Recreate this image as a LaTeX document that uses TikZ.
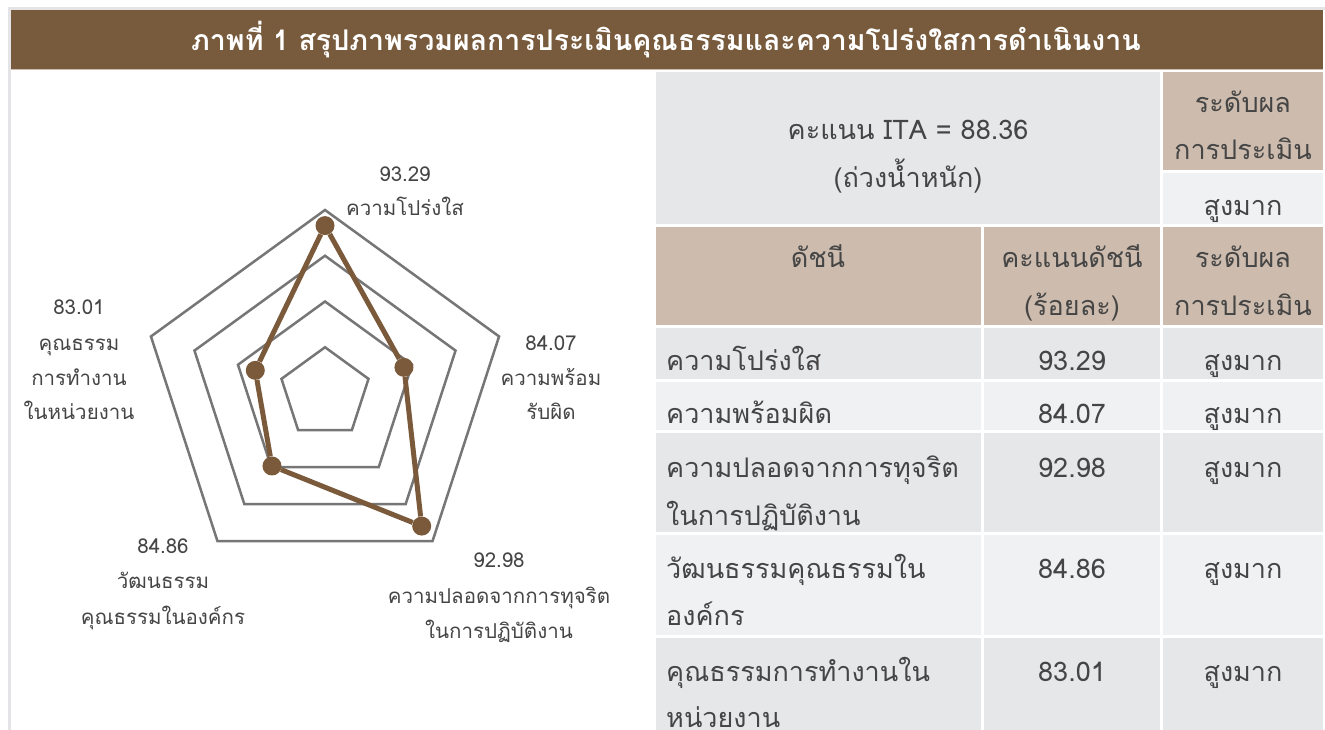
\documentclass[tikz,border=0pt]{standalone}
\usepackage{fontspec}
\newfontfamily\thai[Script=Thai]{Loma}
\definecolor{hdrbrown}{HTML}{785A3C}
\definecolor{tan}{HTML}{CDBCAE}
\definecolor{cgray}{HTML}{E6E7E9}
\definecolor{clight}{HTML}{F0F1F3}
\definecolor{ringgray}{HTML}{767676}
\definecolor{databrown}{HTML}{7A5A3B}
\definecolor{txtgray}{HTML}{454545}
\definecolor{bordergray}{HTML}{E4E4E6}
\tikzset{
  cell/.style={inner sep=0pt, outer sep=0pt, anchor=north west, draw=none},
  ttxt/.style={inner sep=0pt, anchor=base, text=txtgray, font=\thai\fontsize{27}{48}\selectfont},
  ttxtl/.style={ttxt, anchor=base west},
  ctxt/.style={inner sep=0pt, anchor=base, text=txtgray, font=\thai\fontsize{20.5}{35}\selectfont},
  ring/.style={draw=ringgray, line width=2.5pt, line join=miter},
  dot/.style={circle, fill=databrown, inner sep=0pt, minimum size=19pt},
  dataline/.style={draw=databrown, line width=5pt},
}
\begin{document}
\begin{tikzpicture}[x=1pt, y=-1pt]
\useasboundingbox (0,0) rectangle (1325,730);
\fill[white] (0,0) rectangle (1325,730);
% outer frame lines
\fill[bordergray] (8,7) rectangle (1325,10);
\fill[bordergray] (8,10) rectangle (11,730);
% header bar
\node[cell, fill=hdrbrown, minimum width=1312pt, minimum height=59pt] (hdr) at (11,10) {};
\node[inner sep=0pt, anchor=base, text=white, font=\thai\bfseries\fontsize{28.5}{32}\selectfont] (title) at (666,51) {ภาพที่ 1 สรุปภาพรวมผลการประเมินคุณธรรมและความโปร่งใสการดำเนินงาน};
\fill[tan] (11,69) rectangle (1323,70.5);

% ---------- table cells ----------
\node[cell, fill=cgray, minimum width=504pt, minimum height=152pt] (ita) at (656,72) {};
\node[cell, fill=tan, minimum width=160pt, minimum height=98pt] (lvlhA) at (1163,72) {};
\node[cell, fill=clight, minimum width=160pt, minimum height=51pt] (lvlA) at (1163,173) {};

\node[cell, fill=tan, minimum width=325pt, minimum height=98pt] (h1) at (656,227) {};
\node[cell, fill=tan, minimum width=176pt, minimum height=98pt] (h2) at (984,227) {};
\node[cell, fill=tan, minimum width=160pt, minimum height=98pt] (h3) at (1163,227) {};

\foreach \r/\top/\ht/\col in {1/328/51/cgray, 2/382/48/clight, 3/433/99/cgray, 4/535/100/clight, 5/638/95/cgray}{
  \node[cell, fill=\col, minimum width=325pt, minimum height=\ht pt] (r\r c1) at (656,\top) {};
  \node[cell, fill=\col, minimum width=176pt, minimum height=\ht pt] (r\r c2) at (984,\top) {};
  \node[cell, fill=\col, minimum width=160pt, minimum height=\ht pt] (r\r c3) at (1163,\top) {};
}

% ---------- table texts ----------
\node[ttxt] (itaT1) at (908,140) {คะแนน ITA = 88.36};
\node[ttxt] (itaT2) at (908,188) {(ถ่วงน้ำหนัก)};
\node[ttxt] (lvlhA1) at (1243,113) {ระดับผล};
\node[ttxt] (lvlhA2) at (1243,160) {การประเมิน};
\node[ttxt] (lvlAT) at (1243,215) {สูงมาก};

\node[ttxt] (h1T) at (818,267) {ดัชนี};
\node[ttxt] (h2T1) at (1072,267) {คะแนนดัชนี};
\node[ttxt] (h2T2) at (1072,315) {(ร้อยละ)};
\node[ttxt] (h3T1) at (1243,267) {ระดับผล};
\node[ttxt] (h3T2) at (1243,315) {การประเมิน};

\node[ttxtl] (n1) at (666,370) {ความโปร่งใส};
\node[ttxt] (s1) at (1072,370) {93.29};
\node[ttxt] (l1) at (1243,370) {สูงมาก};

\node[ttxtl] (n2) at (666,423) {ความพร้อมผิด};
\node[ttxt] (s2) at (1072,423) {84.07};
\node[ttxt] (l2) at (1243,423) {สูงมาก};

\node[ttxtl] (n3a) at (666,477) {ความปลอดจากการทุจริต};
\node[ttxtl] (n3b) at (666,525) {ในการปฏิบัติงาน};
\node[ttxt] (s3) at (1072,477) {92.98};
\node[ttxt] (l3) at (1243,477) {สูงมาก};

\node[ttxtl] (n4a) at (666,578) {วัฒนธรรมคุณธรรมใน};
\node[ttxtl] (n4b) at (666,625) {องค์กร};
\node[ttxt] (s4) at (1072,578) {84.86};
\node[ttxt] (l4) at (1243,578) {สูงมาก};

\node[ttxtl] (n5a) at (666,681) {คุณธรรมการทำงานใน};
\node[ttxtl] (n5b) at (666,727) {หน่วยงาน};
\node[ttxt] (s5) at (1072,681) {83.01};
\node[ttxt] (l5) at (1243,681) {สูงมาก};

% ---------- radar chart ----------
\begin{scope}[shift={(325,393)}, x=1pt, y=1pt]
  \foreach \rr in {183,137.25,91.5,45.75}{
    \draw[ring] (90:\rr) -- (18:\rr) -- (-54:\rr) -- (-126:\rr) -- (162:\rr) -- cycle;
  }
  \node[dot] (p1) at (90:167.4) {};
  \node[dot] (p2) at (18:83.0) {};
  \node[dot] (p3) at (-54:164.5) {};
  \node[dot] (p4) at (-126:90.2) {};
  \node[dot] (p5) at (162:73.3) {};
  \draw[dataline] (p1) -- (p2) -- (p3) -- (p4) -- (p5) -- (p1);
\end{scope}

% chart labels
\node[ctxt] (v1) at (405,182) {93.29};
\node[ctxt] (a1) at (405,216) {ความโปร่งใส};
\node[ctxt] (v5) at (79,314) {83.01};
\node[ctxt] (a5a) at (79,350) {คุณธรรม};
\node[ctxt] (a5b) at (79,385) {การทำงาน};
\node[ctxt] (a5c) at (79,419) {ในหน่วยงาน};
\node[ctxt] (v2) at (551,350) {84.07};
\node[ctxt] (a2a) at (551,385) {ความพร้อม};
\node[ctxt] (a2b) at (551,419) {รับผิด};
\node[ctxt] (v4) at (163,553) {84.86};
\node[ctxt] (a4a) at (163,588) {วัฒนธรรม};
\node[ctxt] (a4b) at (163,624) {คุณธรรมในองค์กร};
\node[ctxt] (v3) at (499,567) {92.98};
\node[ctxt] (a3a) at (499,603) {ความปลอดจากการทุจริต};
\node[ctxt] (a3b) at (499,638) {ในการปฏิบัติงาน};
\end{tikzpicture}
\end{document}
